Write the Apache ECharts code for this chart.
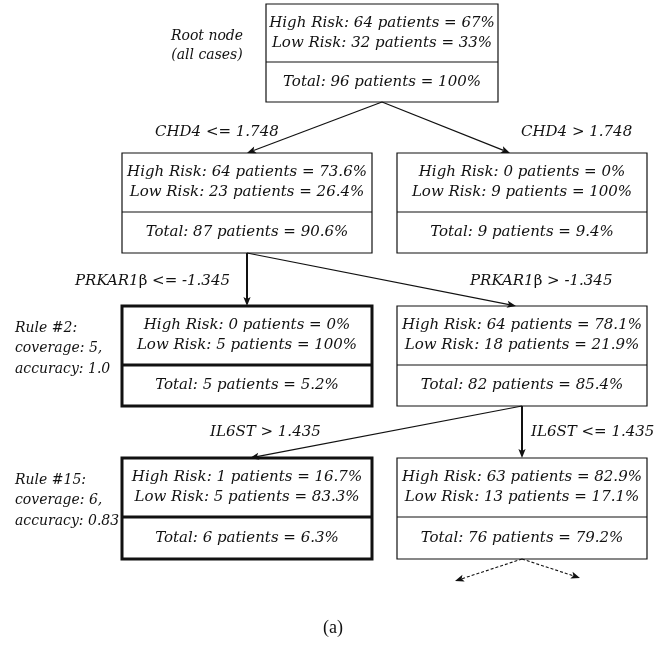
<!DOCTYPE html>
<html>
<head>
<meta charset="utf-8">
<script src="https://cdn.jsdelivr.net/npm/echarts@6/dist/echarts.min.js"></script>
<style>
  html, body { margin: 0; padding: 0; background: #fff; }
  #chart { width: 654px; height: 657px; }
</style>
</head>
<body>
<div id="chart"></div>
<script>
// ---- Tree node statistics (root first, then level by level) ----
const nodeNames      = ['root', 'chd4Low', 'chd4High', 'prkLow', 'prkHigh', 'il6High', 'il6Low'];
const highRiskCounts = [64, 64, 0, 0, 64, 1, 63];
const highRiskPct    = ['67%', '73.6%', '0%', '0%', '78.1%', '16.7%', '82.9%'];
const lowRiskCounts  = [32, 23, 9, 5, 18, 5, 13];
const lowRiskPct     = ['33%', '26.4%', '100%', '100%', '21.9%', '83.3%', '17.1%'];
const totalCounts    = [96, 87, 9, 5, 82, 6, 76];
const totalPct       = ['100%', '90.6%', '9.4%', '5.2%', '85.4%', '6.3%', '79.2%'];

// ---- Split edges ----
const edgeParent    = [0, 0, 1, 1, 4, 4];
const edgeChild     = [1, 2, 3, 4, 5, 6];
const edgeGene      = ['CHD4', 'CHD4', 'PRKAR1β', 'PRKAR1β', 'IL6ST', 'IL6ST'];
const edgeOp        = ['<=', '>', '<=', '>', '>', '<='];
const edgeThreshold = ['1.748', '1.748', '-1.345', '-1.345', '1.435', '1.435'];

// ---- Extracted leaf rules ----
const ruleNodes    = [3, 5];
const ruleNames    = ['Rule #2:', 'Rule #15:'];
const ruleCoverage = [5, 6];
const ruleAccuracy = ['1.0', '0.83'];

const rootCaption  = ['Root node', '(all cases)'];
const figureLabel  = '(a)';

// ---- Diagram layout (in axis units) ----
const nodeLevel   = [0, 1, 1, 2, 2, 3, 3];
const nodeCx      = [382, 247, 522, 247, 522, 247, 522];
const nodeW       = [232, 250, 250, 250, 250, 250, 250];
const levelTop    = [4, 153, 306, 458];
const levelDiv    = [62, 212, 365, 517];
const levelBottom = [102, 253, 406, 559];
const edgeTipX    = [247, 510, 247, 516, 250, 522];
const edgeLabelPos   = [[155, 132], [521, 132], [230, 281], [470, 281], [210, 432], [531, 432]];
const edgeLabelAlign = ['left', 'left', 'right', 'left', 'left', 'left'];
const contTips    = [[455, 581], [580, 578]];   // dotted continuation below the last node
const ruleTextX   = 15;
const ruleLineGap = 20.5;
const rootCaptionPos = [207, 36];

const INK = '#111';
const SERIF = '"DejaVu Serif", "Liberation Serif", serif';
const boxFont = 'italic 15px ' + SERIF;
const noteFont = 'italic 14px ' + SERIF;

function arrowShape(api, from, to, width, dashed) {
  const a = api.coord(from), b = api.coord(to);
  const dx = b[0] - a[0], dy = b[1] - a[1];
  const len = Math.sqrt(dx * dx + dy * dy);
  const ux = dx / len, uy = dy / len, nx = -uy, ny = ux;
  const headL = 9, headW = 3.6, notch = 2;
  const bx = b[0] - ux * headL, by = b[1] - uy * headL;
  return [
    {
      type: 'line',
      shape: { x1: a[0], y1: a[1], x2: b[0] - ux * (headL - notch), y2: b[1] - uy * (headL - notch) },
      style: { stroke: INK, lineWidth: width, lineDash: dashed ? [3, 2] : null }
    },
    {
      type: 'polygon',
      shape: { points: [
        [b[0], b[1]],
        [bx + nx * headW, by + ny * headW],
        [b[0] - ux * (headL - notch), b[1] - uy * (headL - notch)],
        [bx - nx * headW, by - ny * headW]
      ] },
      style: { fill: INK }
    }
  ];
}

function renderNode(params, api) {
  const i = params.dataIndex;
  const lv = nodeLevel[i];
  const p0 = api.coord([nodeCx[i] - nodeW[i] / 2, levelTop[lv]]);
  const p1 = api.coord([nodeCx[i] + nodeW[i] / 2, levelBottom[lv]]);
  const pd = api.coord([nodeCx[i], levelDiv[lv]]);
  const isRule = ruleNodes.indexOf(i) >= 0;
  const lw = isRule ? 3 : 1.2;
  const cx = (p0[0] + p1[0]) / 2;
  const upperMid = (p0[1] + pd[1]) / 2;
  const lowerMid = (pd[1] + p1[1]) / 2;
  const txt = (t, y) => ({
    type: 'text',
    style: { text: t, x: cx, y: y, align: 'center', verticalAlign: 'middle', font: boxFont, fill: INK }
  });
  return {
    type: 'group',
    children: [
      { type: 'rect', shape: { x: p0[0], y: p0[1], width: p1[0] - p0[0], height: p1[1] - p0[1] },
        style: { fill: '#fff', stroke: INK, lineWidth: lw } },
      { type: 'line', shape: { x1: p0[0], y1: pd[1], x2: p1[0], y2: pd[1] },
        style: { stroke: INK, lineWidth: lw } },
      txt('High Risk: ' + highRiskCounts[i] + ' patients = ' + highRiskPct[i], upperMid - 10),
      txt('Low Risk: ' + lowRiskCounts[i] + ' patients = ' + lowRiskPct[i], upperMid + 10),
      txt('Total: ' + totalCounts[i] + ' patients = ' + totalPct[i], lowerMid)
    ]
  };
}

function renderEdge(params, api) {
  const e = params.dataIndex;
  const p = edgeParent[e], c = edgeChild[e];
  const from = [nodeCx[p], levelBottom[nodeLevel[p]]];
  const to = [edgeTipX[e], levelTop[nodeLevel[c]]];
  const vertical = Math.abs(from[0] - to[0]) < 1;
  const children = arrowShape(api, from, to, vertical ? 2 : 1.2, false);
  // condition label, Greek letters in gene symbols set upright
  const gene = edgeGene[e];
  const m = gene.match(/^(.*?)([\u0370-\u03ff]+)$/);
  const geneRich = m ? '{i|' + m[1] + '}{g|' + m[2] + '}' : '{i|' + gene + '}';
  const pos = api.coord(edgeLabelPos[e]);
  children.push({
    type: 'text',
    style: {
      text: geneRich + '{i| ' + edgeOp[e] + ' ' + edgeThreshold[e] + '}',
      x: pos[0], y: pos[1], align: edgeLabelAlign[e], verticalAlign: 'middle',
      rich: {
        i: { fontStyle: 'italic', fontSize: 15, fontFamily: SERIF, fill: INK },
        g: { fontStyle: 'normal', fontSize: 15, fontFamily: SERIF, fill: INK }
      }
    }
  });
  return { type: 'group', children: children };
}

function renderNotes(params, api) {
  const children = [];
  // dotted continuation arrows below the last expanded node
  const last = edgeChild[edgeChild.length - 1];
  const from = [nodeCx[last], levelBottom[nodeLevel[last]]];
  contTips.forEach(t => { children.push.apply(children, arrowShape(api, from, t, 1.1, true)); });
  // rule annotations beside the leaf nodes
  ruleNodes.forEach((n, k) => {
    const lv = nodeLevel[n];
    const lines = [ruleNames[k], 'coverage: ' + ruleCoverage[k] + ',', 'accuracy: ' + ruleAccuracy[k]];
    const y0 = levelDiv[lv] + 4 - ruleLineGap * 2;
    lines.forEach((t, j) => {
      const p = api.coord([ruleTextX, y0 + j * ruleLineGap]);
      children.push({ type: 'text', style: { text: t, x: p[0], y: p[1], align: 'left', verticalAlign: 'middle', font: noteFont, fill: INK } });
    });
  });
  // root caption
  rootCaption.forEach((t, j) => {
    const p = api.coord([rootCaptionPos[0], rootCaptionPos[1] + j * 19]);
    children.push({ type: 'text', style: { text: t, x: p[0], y: p[1], align: 'center', verticalAlign: 'middle', font: noteFont, fill: INK } });
  });
  return { type: 'group', children: children };
}

const chart = echarts.init(document.getElementById('chart'), null, { renderer: 'canvas' });
chart.setOption({
  animation: false,
  backgroundColor: '#fff',
  title: {
    text: figureLabel, left: 318, top: 614,
    textStyle: { fontFamily: '"Liberation Serif", serif', fontWeight: 'normal', fontSize: 18, color: INK }
  },
  grid: { left: 0, right: 0, top: 0, bottom: 0 },
  xAxis: { type: 'value', min: 0, max: 654, show: false },
  yAxis: { type: 'value', min: 0, max: 657, inverse: true, show: false },
  series: [
    {
      type: 'custom', name: 'edges', coordinateSystem: 'cartesian2d', silent: true, z: 3,
      data: edgeChild.map((c, e) => [edgeTipX[e], levelTop[nodeLevel[c]]]),
      renderItem: renderEdge
    },
    {
      type: 'custom', name: 'nodes', coordinateSystem: 'cartesian2d', silent: true, z: 2,
      data: nodeNames.map((n, i) => [nodeCx[i], levelTop[nodeLevel[i]]]),
      renderItem: renderNode
    },
    {
      type: 'custom', name: 'notes', coordinateSystem: 'cartesian2d', silent: true, z: 3,
      data: [[0, 0]],
      renderItem: renderNotes
    }
  ]
});
</script>
</body>
</html>
